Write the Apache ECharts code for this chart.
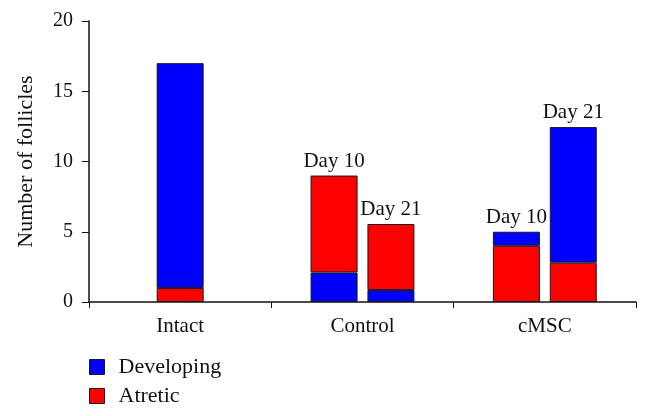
<!DOCTYPE html>
<html>
<head>
<meta charset="utf-8">
<script src="https://cdn.jsdelivr.net/npm/echarts@6/dist/echarts.min.js"></script>
<style>
  html, body { margin: 0; padding: 0; background: #fff; }
  #chart { width: 646px; height: 416px; }
</style>
</head>
<body>
<div id="chart"></div>
<script>
const categories = ['Intact', 'Control', 'cMSC']
const yTicks = [0, 5, 10, 15, 20]

// Intact has one centred bar
const intactDeveloping = [16, null, null]
const intactAtretic = [1, null, null]
// Control and cMSC have Day 10 / Day 21 bars
const day10Developing = [null, 2.1, 1]
const day10Atretic = [null, 6.9, 4]
const day21Developing = [null, 0.85, 9.65]
const day21Atretic = [null, 4.7, 2.8]
// in Control the blue part sits under the red part
const developingBelow = [false, true, false]

const colorDev = '#0000ff'
const colorAtr = '#ff0000'
const font = 'Liberation Serif'

// build the three stacked pieces of one bar group
function buildStack(dev, atr, stack, xAxisIndex, dayLabel) {
  const bottom = atr.map((v, i) => (developingBelow[i] ? null : v))
  const top = atr.map((v, i) => (developingBelow[i] ? v : null))
  const mk = (arr, isTop) => arr.map((v, i) => {
    if (v == null) return null
    const item = { value: v }
    if (dayLabel && isTop(i)) {
      item.label = { show: true, position: 'top', formatter: dayLabel, distance: 4 }
    }
    return item
  })
  const base = {
    type: 'bar',
    stack: stack,
    xAxisIndex: xAxisIndex,
    barWidth: 47,
    barGap: '21%',
    itemStyle: { borderColor: '#1a1a1a', borderWidth: 1 },
    label: { color: '#111', fontFamily: font, fontSize: 21 }
  }
  return [
    Object.assign({}, base, { name: 'Atretic', data: mk(bottom, i => false), itemStyle: Object.assign({}, base.itemStyle, { color: colorAtr }) }),
    Object.assign({}, base, { name: 'Developing', data: mk(dev, i => !developingBelow[i]), itemStyle: Object.assign({}, base.itemStyle, { color: colorDev }) }),
    Object.assign({}, base, { name: 'Atretic', data: mk(top, i => developingBelow[i]), itemStyle: Object.assign({}, base.itemStyle, { color: colorAtr }) })
  ]
}

const seriesList = []
  .concat(buildStack(day10Developing, day10Atretic, 'd10', 0, 'Day 10'))
  .concat(buildStack(day21Developing, day21Atretic, 'd21', 0, 'Day 21'))
  .concat(buildStack(intactDeveloping, intactAtretic, 'single', 1, null))

const chart = echarts.init(document.getElementById('chart'))
const option = {
  animation: false,
  textStyle: { fontFamily: font },
  grid: { left: 89, right: 10, top: 21, bottom: 114 },
  legend: {
    orient: 'vertical',
    left: 89,
    top: 356,
    padding: 0,
    icon: 'rect',
    itemWidth: 15,
    itemHeight: 15,
    itemGap: 7,
    data: [
      { name: 'Developing', itemStyle: { color: colorDev, borderColor: '#1a1a1a', borderWidth: 1 } },
      { name: 'Atretic', itemStyle: { color: colorAtr, borderColor: '#1a1a1a', borderWidth: 1 } }
    ],
    textStyle: { fontFamily: font, fontSize: 22, lineHeight: 22, color: '#111', padding: [0, 0, 0, 9] }
  },
  xAxis: [
    {
      type: 'category',
      data: categories,
      axisLine: { lineStyle: { color: '#111', width: 1.5 } },
      axisTick: { show: true, length: 6, lineStyle: { color: '#111' } },
      axisLabel: { color: '#111', fontFamily: font, fontSize: 21, margin: 14 }
    },
    {
      type: 'category',
      data: categories,
      show: false
    }
  ],
  yAxis: {
    type: 'value',
    min: yTicks[0],
    max: yTicks[yTicks.length - 1],
    interval: 5,
    name: 'Number of follicles',
    nameLocation: 'middle',
    nameGap: 52,
    nameTextStyle: { color: '#111', fontFamily: font, fontSize: 22 },
    axisLine: { show: true, lineStyle: { color: '#111', width: 1.5 } },
    axisTick: { show: true, length: 7, lineStyle: { color: '#111' } },
    axisLabel: { color: '#111', fontFamily: font, fontSize: 20, margin: 16 },
    splitLine: { show: false }
  },
  series: seriesList
}
option && chart.setOption(option)
</script>
</body>
</html>
